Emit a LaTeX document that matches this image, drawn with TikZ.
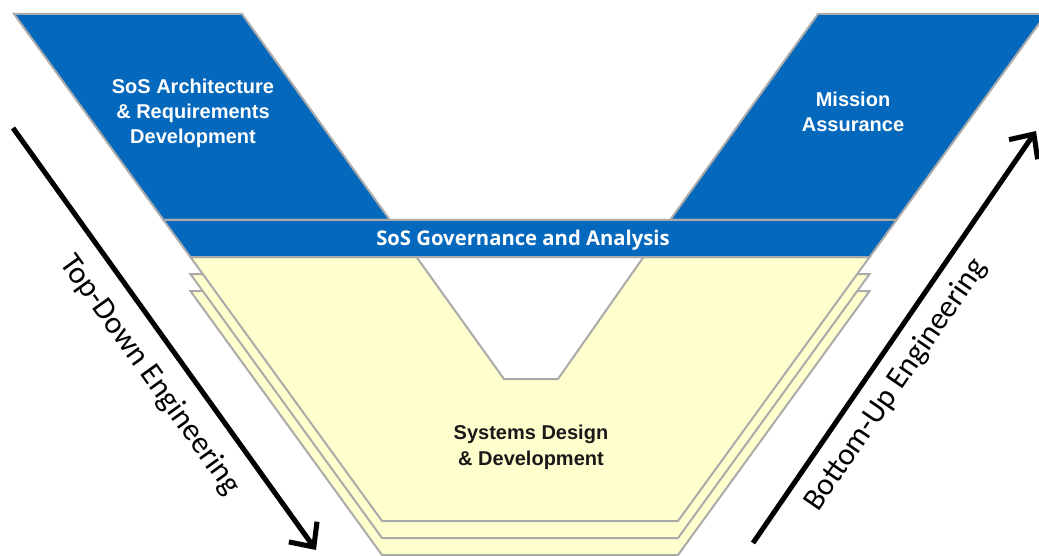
\documentclass[tikz,border=0pt]{standalone}
\usepackage{fontspec}
\setmainfont{Liberation Sans}
\newfontfamily\calfont{Carlito}
\newfontfamily\govfont{Open Sans}
\usetikzlibrary{arrows.meta}
\definecolor{vblue}{RGB}{4,104,189}
\definecolor{vyellow}{RGB}{255,255,206}
\definecolor{vgray}{RGB}{170,170,170}
\tikzset{
  blueshape/.style={fill=vblue, draw=vgray, line width=1.5pt, line join=miter},
  yellowshape/.style={fill=vyellow, draw=vgray, line width=1.5pt, line join=miter},
  notchshape/.style={fill=white, draw=vgray, line width=1.5pt, line join=miter},
  bluetext/.style={text=white, align=center, font=\bfseries\fontsize{15}{18.75}\selectfont, inner sep=0pt},
  govtext/.style={text=white, font=\govfont\bfseries\fontsize{15.2}{17}\selectfont, inner sep=0pt},
  darktext/.style={text=black!90, align=center, font=\bfseries\fontsize{15}{19.5}\selectfont, inner sep=0pt},
  arrowtext/.style={text=black, font=\calfont\fontsize{23.5}{27}\selectfont, inner sep=0pt},
  bigarrow/.style={line width=3.8pt, -{Straight Barb[length=14pt, width=26pt, line width=3.8pt]}}
}
\begin{document}
\begin{tikzpicture}[x=0.75pt, y=-0.75pt]
\useasboundingbox (0,0) rectangle (1039,556);
\clip (0,0) rectangle (1039,556);
% stacked yellow layers (back to front)
\foreach \k in {34,17,0}{
  \draw[yellowshape] (190.4,257+\k) -- (869.6,257+\k) -- (678,521+\k) -- (382,521+\k) -- cycle;
}
% white notch
\draw[notchshape] (416.5,257) -- (504,379) -- (558,379) -- (643.5,257);
% blue parallelograms
\draw[blueshape] (14,14) -- (242,14) -- (389.9,220) -- (163.5,220) -- cycle;
\draw[blueshape] (818,14) -- (1046,14) -- (896.5,220) -- (670.1,220) -- cycle;
% governance bar
\draw[blueshape] (163.5,220) -- (896.5,220) -- (869.6,257) -- (190.4,257) -- cycle;
% texts
\node[bluetext] (arch) at (193,113) {SoS Architecture\\\& Requirements\\Development};
\node[bluetext] (mission) at (853,112) {Mission\\Assurance};
\node[govtext] (gov) at (523,240.5) {SoS Governance and Analysis};
\node[darktext] (sysdev) at (531,447) {Systems Design\\\& Development};
% arrows
\coordinate (tdS) at (13,128);
\coordinate (tdE) at (316,550);
\coordinate (buS) at (753,543);
\coordinate (buE) at (1036,131);
\draw[bigarrow] (tdS) -- (tdE);
\draw[bigarrow] (buS) -- (buE);
\node[arrowtext, rotate=-54.3] (tdlabel) at (150,375) {Top-Down Engineering};
\node[arrowtext, rotate=55.5] (bulabel) at (896,385) {Bottom-Up Engineering};
\end{tikzpicture}
\end{document}
